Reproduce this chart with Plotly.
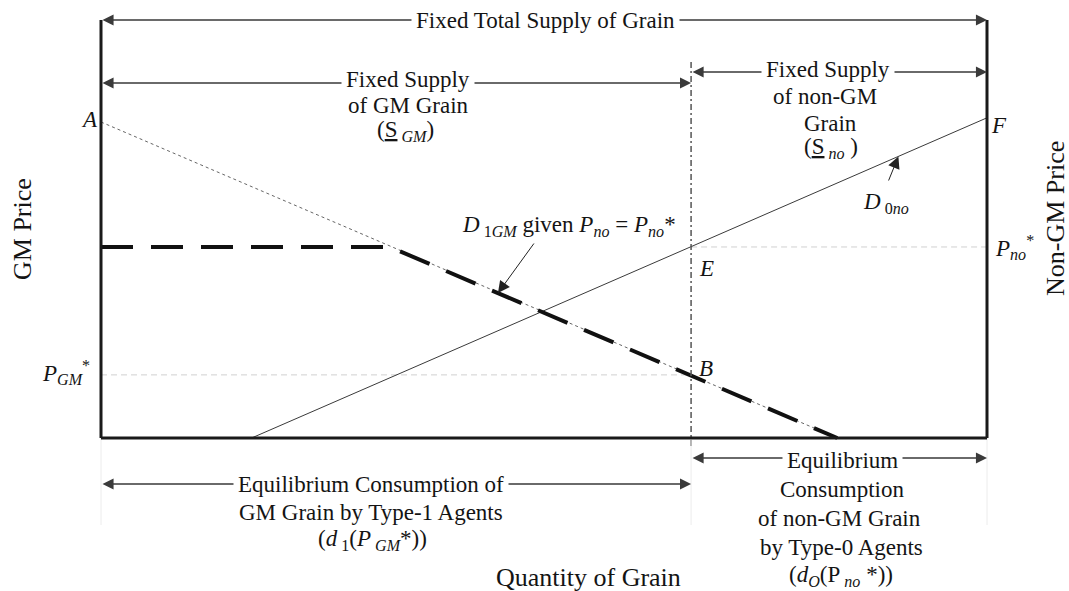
import numpy as np
import plotly.graph_objects as go

# ---------------- data (chart units: quantity 0..100, price 0..100) ----------------
total_supply = 100.0            # fixed total supply of grain (right-hand price axis)
gm_supply = 66.6                # fixed supply of GM grain (dash-dot divider)
price_top = 100.0               # top of the price axes

point_A = 75.6                  # GM price intercept (A)
d1_x = [0.0, 32.6, 83.1]        # D1GM given Pno = Pno*
d1_y = [45.7, 45.7, 0.0]
d0_x = [17.0, 100.0]            # D0no (measured from the right)
d0_y = [0.0, 76.6]
p_gm_star = 15.1
p_no_star = 45.7

# ---------------- layout helpers (pixel placement of labels) ----------------
W, H = 1069, 591
PXL, PXR, PYB, PYT = 101, 987, 438, 20
SX = (PXR - PXL) / total_supply
SY = (PYB - PYT) / price_top


def X(px):
    return (px - PXL) / SX


def Y(py):
    return (PYB - py) / SY


FONT = "Liberation Serif"
TXT = "#141414"
fs = 23

fig = go.Figure()

# light guides
fig.add_trace(go.Scatter(x=[0, gm_supply], y=[p_gm_star, p_gm_star], mode="lines",
                         line=dict(color="#d0d0d0", width=1, dash="6px,4px"), hoverinfo="skip"))
fig.add_trace(go.Scatter(x=[gm_supply, total_supply], y=[p_no_star, p_no_star], mode="lines",
                         line=dict(color="#d0d0d0", width=1, dash="6px,4px"), hoverinfo="skip"))

# faint extension lines below the axis
for xv in [0, gm_supply, total_supply]:
    fig.add_shape(type="line", x0=xv, x1=xv, y0=0, y1=Y(525),
                  line=dict(color="#ececec", width=1))

# thin dotted demand line from A
fig.add_trace(go.Scatter(x=[d1_x[0], d1_x[-1]], y=[point_A, d1_y[-1]], mode="lines",
                         line=dict(color="#666666", width=1, dash="3px,3px"), hoverinfo="skip"))

# D0no
fig.add_trace(go.Scatter(x=d0_x, y=d0_y, mode="lines",
                         line=dict(color="#3a3a3a", width=1), hoverinfo="skip"))

# D1GM heavy dashed
fig.add_trace(go.Scatter(x=d1_x, y=d1_y, mode="lines",
                         line=dict(color="#111111", width=4, dash="32px,18px"), hoverinfo="skip"))

# divider
fig.add_trace(go.Scatter(x=[gm_supply, gm_supply], y=[Y(446), Y(59)], mode="lines",
                         line=dict(color="#555555", width=1.5, dash="6px,3px,2px,3px"), hoverinfo="skip"))

# axes frame
fig.add_shape(type="line", x0=0, x1=0, y0=0, y1=price_top, line=dict(color="#1a1a1a", width=3))
fig.add_shape(type="line", x0=total_supply, x1=total_supply, y0=0, y1=price_top,
              line=dict(color="#1a1a1a", width=3))
fig.add_shape(type="line", x0=0, x1=total_supply, y0=0, y1=0, line=dict(color="#1a1a1a", width=3))

ann = []


def darrow(x0, x1, yv):
    ann.append(dict(x=x1, y=yv, ax=x0, ay=yv, xref="x", yref="y", axref="x", ayref="y",
                    text="", showarrow=True, arrowhead=2, startarrowhead=2, arrowside="end+start",
                    arrowsize=1.7, arrowwidth=1.3, arrowcolor="#3a3a3a", standoff=0, startstandoff=0))


def txt(s, px, py, bg=None, size=fs, xanchor="center", angle=0):
    d = dict(x=X(px), y=Y(py), xref="x", yref="y", text=s, showarrow=False,
             font=dict(family=FONT, size=size, color=TXT), xanchor=xanchor, yanchor="middle",
             textangle=angle)
    if bg:
        d.update(bgcolor=bg, borderpad=4)
    ann.append(d)


# double-headed arrows
darrow(0, total_supply, price_top)
darrow(0, gm_supply, Y(83))
darrow(gm_supply, total_supply, Y(72))
darrow(0, gm_supply, Y(484))
darrow(gm_supply, total_supply, Y(458))

# pointer arrows
tip1 = 44.8
ann.append(dict(x=tip1, y=float(np.interp(tip1, d1_x, d1_y)), ax=X(535), ay=Y(242),
                xref="x", yref="y", axref="x", ayref="y", text="", showarrow=True,
                arrowhead=2, arrowsize=2.4, arrowwidth=1, arrowcolor="#222222", standoff=0))
tip0 = 90.0
ann.append(dict(x=tip0, y=float(np.interp(tip0, d0_x, d0_y)), ax=X(888), ay=Y(182),
                xref="x", yref="y", axref="x", ayref="y", text="", showarrow=True,
                arrowhead=2, arrowsize=2.4, arrowwidth=1, arrowcolor="#222222", standoff=0))

# texts
txt("Fixed Total Supply of Grain", 545, 20, bg="white")

txt("Fixed Supply", 408, 79, bg="white")
txt("of GM Grain", 408, 105)
txt("(<u>S</u><sub> <i>GM</i></sub>)", 405, 131)

txt("Fixed Supply", 828, 69, bg="white")
txt("of non-GM", 825, 96)
txt("Grain", 830, 123)
txt("(<u>S</u><sub> <i>no</i></sub> )", 831, 148)

txt("Equilibrium Consumption of", 371, 484, bg="white")
txt("GM Grain by Type-1 Agents", 371, 512)
txt("(<i>d</i><sub> 1</sub>(<i>P</i><sub> <i>GM</i></sub>*))", 372, 540)

txt("Equilibrium", 842, 460, bg="white")
txt("Consumption", 842, 489)
txt("of non-GM Grain", 839, 518)
txt("by Type-0 Agents", 841, 547)
txt("(<i>d<sub>O</sub></i>(P<sub> <i>no</i></sub> *))", 841, 576)

txt("Quantity of Grain", 588, 577, size=26)
txt("GM Price", 22, 229, size=26, angle=-90)
txt("Non-GM Price", 1055, 219, size=26, angle=-90)

txt("<i>A</i>", 89, 119)
txt("<i>P<sub>GM</sub></i><sup>*</sup>", 66, 372)
txt("<i>B</i>", 706, 368)
txt("<i>E</i>", 706, 268)
txt("<i>F</i>", 999, 125)
txt("<i>P<sub>no</sub></i><sup>*</sup>", 993, 247, xanchor="left")
txt("<i>D</i><sub> 1<i>GM</i></sub> given <i>P<sub>no</sub></i> = <i>P<sub>no</sub></i>*", 569, 226)
txt("<i>D</i><sub> 0<i>no</i></sub>", 886, 203)

fig.update_layout(
    width=W, height=H, margin=dict(l=0, r=0, t=0, b=0),
    paper_bgcolor="white", plot_bgcolor="white", showlegend=False,
    xaxis=dict(range=[X(0), X(W)], visible=False, fixedrange=True),
    yaxis=dict(range=[Y(H), Y(0)], visible=False, fixedrange=True),
    annotations=ann,
)

fig.write_html("out.html", config={"displayModeBar": False},
               post_script="document.body.style.margin='0';")
